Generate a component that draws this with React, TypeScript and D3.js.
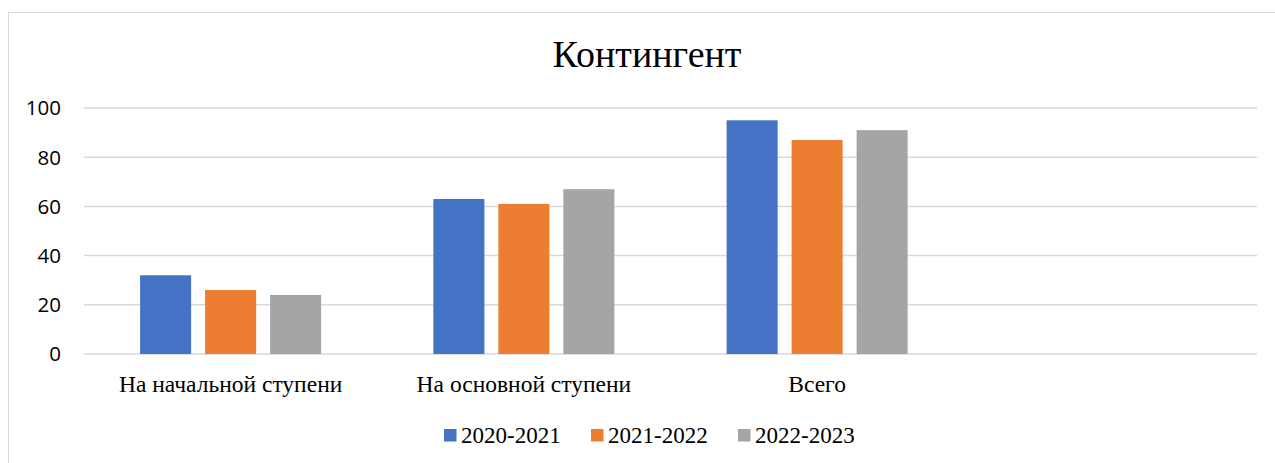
import React from "react";
import * as d3 from "d3";

const categories = ["На начальной ступени", "На основной ступени", "Всего", ""];
const seriesNames = ["2020-2021", "2021-2022", "2022-2023"];
const values2020 = [32, 63, 95, 0];
const values2021 = [26, 61, 87, 0];
const values2022 = [24, 67, 91, 0];
const yTicks = [0, 20, 40, 60, 80, 100];
const colors = ["#4472c4", "#ed7d31", "#a5a5a5"];

const width = 1275;
const height = 463;
const margin = { top: 108, right: 18, bottom: 109, left: 84 };

const App: React.FC = () => {
  const series = [values2020, values2021, values2022];

  const x0 = d3
    .scaleBand<string>()
    .domain(categories.map((_, i) => String(i)))
    .range([margin.left, width - margin.right])
    .paddingInner(0.335)
    .paddingOuter(0.1675);

  const x1 = d3
    .scaleBand<string>()
    .domain(seriesNames)
    .range([0, x0.bandwidth()])
    .paddingInner(0.215)
    .paddingOuter(0.1075);

  const y = d3
    .scaleLinear()
    .domain([0, 100])
    .range([height - margin.bottom, margin.top]);

  const legendX = [444, 591, 738];

  return (
    <svg
      width={width}
      height={height}
      style={{ position: "absolute", left: 0, top: 0, display: "block" }}
    >
      <rect x={0} y={0} width={width} height={height} fill="#fff" />
      <rect x={8.5} y={12.5} width={1300} height={500} fill="none" stroke="#d9d9d9" />

      <text
        x={647}
        y={67}
        textAnchor="middle"
        fontFamily="Liberation Serif, serif"
        fontSize={38}
        fill="#000"
      >
        Контингент
      </text>

      {/* gridlines + y labels */}
      {yTicks.map((t) => (
        <g key={t}>
          <line
            x1={margin.left}
            x2={width - margin.right}
            y1={y(t)}
            y2={y(t)}
            stroke="#d9d9d9"
            strokeWidth={1.5}
          />
          <text
            x={61}
            y={y(t)}
            dy="0.36em"
            textAnchor="end"
            fontFamily="'Open Sans', sans-serif"
            fontSize={20.5}
            fill="#000"
          >
            {t}
          </text>
        </g>
      ))}

      {/* bars */}
      {categories.map((c, i) => (
        <g key={i} transform={`translate(${x0(String(i))},0)`}>
          {series.map((vals, s) =>
            vals[i] > 0 ? (
              <rect
                key={s}
                x={x1(seriesNames[s])}
                y={y(vals[i])}
                width={x1.bandwidth()}
                height={y(0) - y(vals[i])}
                fill={colors[s]}
              />
            ) : null
          )}
          <text
            x={x0.bandwidth() / 2}
            y={392}
            textAnchor="middle"
            fontFamily="Liberation Serif, serif"
            fontSize={23.5}
            fill="#000"
          >
            {c}
          </text>
        </g>
      ))}

      {/* legend */}
      {seriesNames.map((n, s) => (
        <g key={n} transform={`translate(${legendX[s]},0)`}>
          <rect x={0} y={429} width={12.5} height={12.5} fill={colors[s]} />
          <text
            x={17}
            y={443}
            fontFamily="Liberation Serif, serif"
            fontSize={23}
            fill="#000"
          >
            {n}
          </text>
        </g>
      ))}
    </svg>
  );
};

export default App;
